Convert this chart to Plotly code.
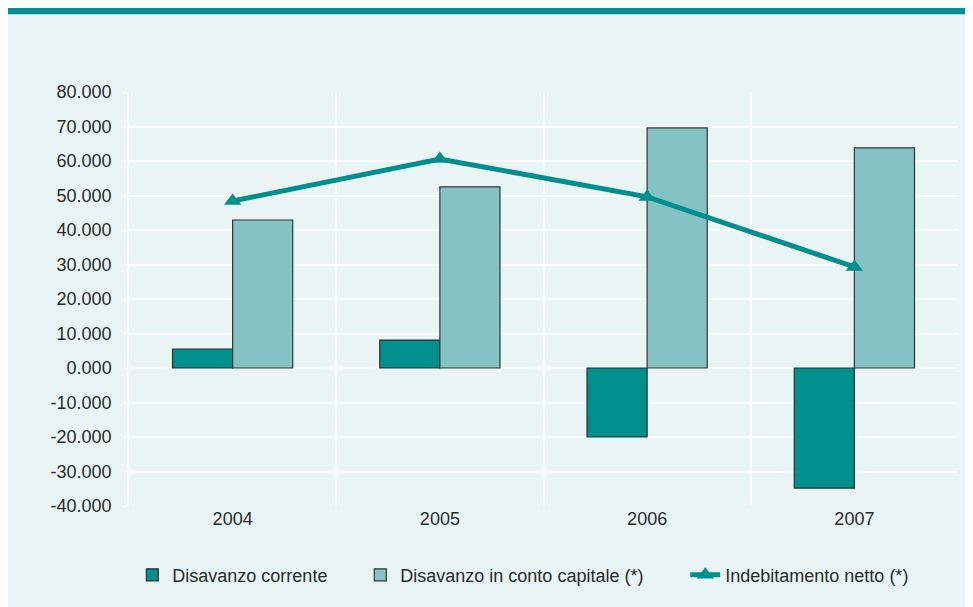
import plotly.graph_objects as go

# ==== Dati (migliaia) ====
anni = ["2004", "2005", "2006", "2007"]
disavanzo_corrente = [5.5, 8.1, -20.0, -34.8]
disavanzo_capitale = [42.9, 52.5, 69.6, 63.8]
indebitamento_netto = [48.4, 60.6, 49.6, 29.3]
y_ticks = [80, 70, 60, 50, 40, 30, 20, 10, 0, -10, -20, -30, -40]
y_ticktext = [f"{v:.3f}" for v in y_ticks]  # trattino semplice, non il segno meno

# ==== Colori ====
teal_dark = "#008f8c"
teal_light = "#84c3c3"
bg = "#e9f5f5"
font = "Liberation Sans, Arial, sans-serif"

x = list(range(len(anni)))

fig = go.Figure()

fig.add_trace(go.Bar(
    x=x,
    y=disavanzo_corrente,
    name="Disavanzo corrente",
    marker=dict(color=teal_dark, line=dict(color="#1f3333", width=1.2)),
    offsetgroup="a",
    legend="legend",
))
fig.add_trace(go.Bar(
    x=x,
    y=disavanzo_capitale,
    name="Disavanzo in conto capitale (*)",
    marker=dict(color=teal_light, line=dict(color="#333333", width=1.2)),
    offsetgroup="b",
    legend="legend2",
))
fig.add_trace(go.Scatter(
    x=x,
    y=indebitamento_netto,
    name="Indebitamento netto (*)",
    mode="lines+markers",
    line=dict(color=teal_dark, width=5),
    marker=dict(symbol="triangle-up", size=15, color=teal_dark),
    legend="legend3",
))

# ==== Sfondo e fascia ====
fig.add_shape(type="rect", xref="paper", yref="paper",
              x0=-0.146, x1=1.03, y0=-0.27, y1=1.188,
              fillcolor=bg, line=dict(width=0), layer="below")
fig.add_shape(type="rect", xref="paper", yref="paper",
              x0=-0.146, x1=1.03, y0=1.188, y1=1.25,
              fillcolor="#008e8e", line=dict(width=0), layer="below")

leg = dict(
    orientation="h",
    xanchor="left",
    y=-0.167, yanchor="middle",
    bgcolor="rgba(0,0,0,0)",
    font=dict(size=18),
    itemwidth=30,
)

fig.update_layout(
    width=973,
    height=607,
    margin=dict(l=121, r=23, t=84, b=109),
    paper_bgcolor="white",
    plot_bgcolor=bg,
    barmode="group",
    bargap=0.42,
    bargroupgap=0,
    font=dict(family=font, size=18, color="#2a2a2a"),
    showlegend=True,
    legend=dict(leg, x=0.004),
    legend2=dict(leg, x=0.279),
    legend3=dict(leg, x=0.671),
    xaxis=dict(
        range=[-0.5, 3.5],
        tickmode="array",
        tickvals=x,
        ticktext=anni,
        showgrid=False,
        zeroline=False,
        ticks="",
        minor=dict(tickvals=[-0.5, 0.5, 1.5, 2.5, 3.5], showgrid=True,
                   gridcolor="white", gridwidth=1.5),
    ),
    yaxis=dict(
        range=[-40, 80],
        tickmode="array",
        tickvals=y_ticks,
        ticktext=y_ticktext,
        gridcolor="white",
        gridwidth=1.5,
        zeroline=True,
        zerolinecolor="white",
        zerolinewidth=1.5,
        showline=True,
        linecolor="white",
        linewidth=1.5,
        ticks="outside",
        ticklen=4,
        tickcolor="white",
        ticklabelstandoff=8,
    ),
)

fig.write_html("out.html")
